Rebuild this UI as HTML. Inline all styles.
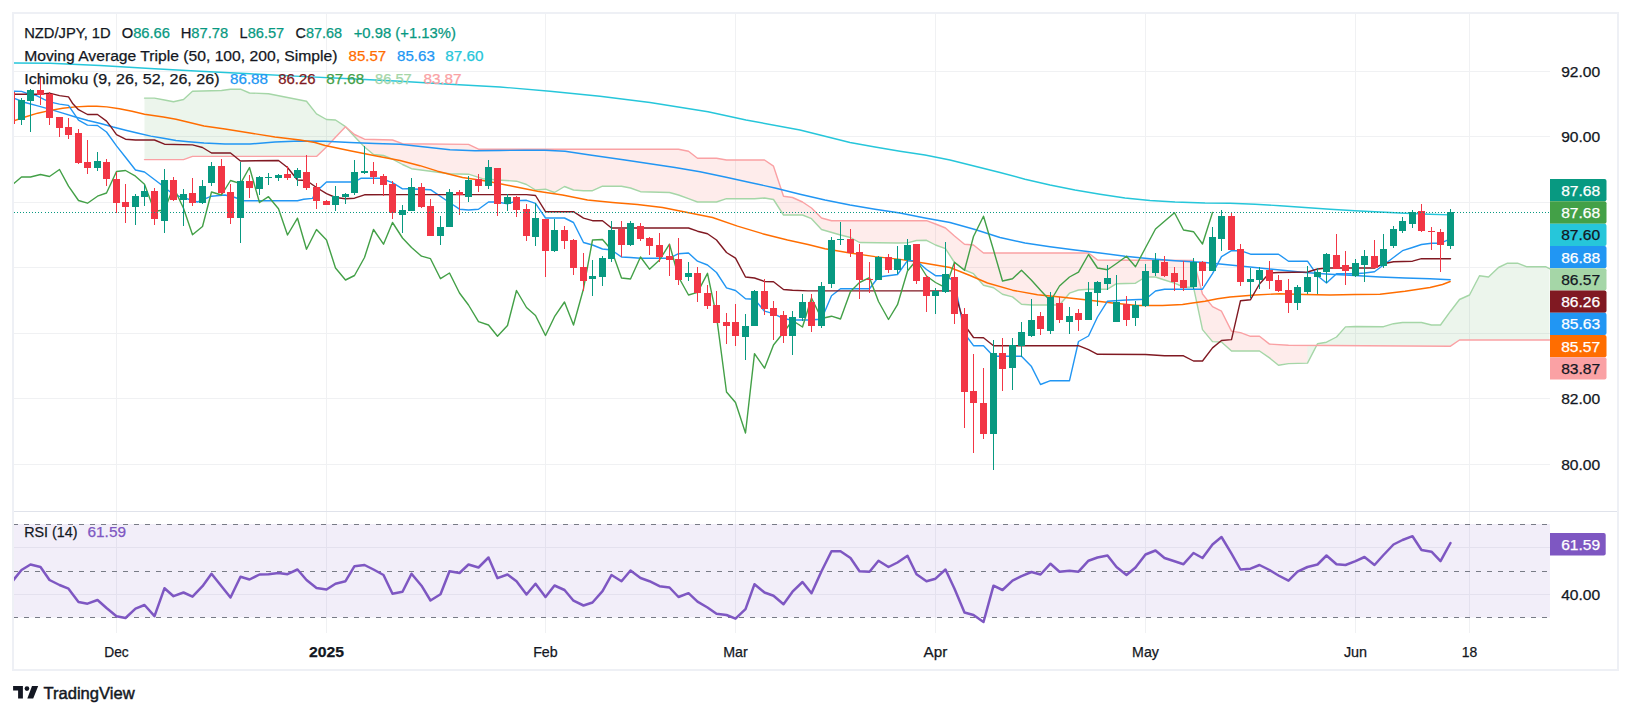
<!DOCTYPE html>
<html><head><meta charset="utf-8"><title>NZD/JPY chart</title>
<style>html,body{margin:0;padding:0;background:#fff;}svg{display:block}</style></head>
<body><svg width="1631" height="716" viewBox="0 0 1631 716" font-family='"Liberation Sans", Arial, sans-serif'>
<rect width="1631" height="716" fill="#fff"/>
<defs><clipPath id="cp"><rect x="14" y="14" width="1536" height="497"/></clipPath><clipPath id="cr"><rect x="14" y="512" width="1536" height="121"/></clipPath></defs>
<g stroke="#f0f1f3" stroke-width="1" shape-rendering="crispEdges">
<line x1="116.5" y1="14" x2="116.5" y2="633"/>
<line x1="326.5" y1="14" x2="326.5" y2="633"/>
<line x1="545.5" y1="14" x2="545.5" y2="633"/>
<line x1="735.5" y1="14" x2="735.5" y2="633"/>
<line x1="935.5" y1="14" x2="935.5" y2="633"/>
<line x1="1145.5" y1="14" x2="1145.5" y2="633"/>
<line x1="1355.5" y1="14" x2="1355.5" y2="633"/>
<line x1="1469.5" y1="14" x2="1469.5" y2="633"/>
<line x1="14" y1="71.5" x2="1550" y2="71.5"/>
<line x1="14" y1="136.5" x2="1550" y2="136.5"/>
<line x1="14" y1="202.5" x2="1550" y2="202.5"/>
<line x1="14" y1="267.5" x2="1550" y2="267.5"/>
<line x1="14" y1="333.5" x2="1550" y2="333.5"/>
<line x1="14" y1="398.5" x2="1550" y2="398.5"/>
<line x1="14" y1="464.5" x2="1550" y2="464.5"/>
<line x1="14" y1="547.5" x2="1550" y2="547.5"/>
<line x1="14" y1="594.5" x2="1550" y2="594.5"/>
</g>
<g clip-path="url(#cp)">
<polygon points="144.5,98.1 154.5,98.1 164.5,100.0 173.5,101.8 183.5,99.5 192.5,91.2 221.5,90.5 230.5,89.2 240.5,89.2 249.5,93.0 268.5,93.7 287.5,97.5 306.5,101.2 316.5,113.9 326.5,119.5 335.5,120.0 345.5,126.7 345.5,126.7 335.5,137.3 326.5,147.0 316.5,156.4 306.5,156.4 287.5,156.4 268.5,156.4 249.5,156.4 240.5,156.4 230.5,156.4 221.5,156.4 192.5,156.4 183.5,159.6 173.5,159.6 164.5,159.6 154.5,159.6 144.5,159.6" fill="rgba(67,160,71,0.10)"/>
<polygon points="345.5,126.7 354.5,136.5 364.5,147.0 373.5,154.5 383.5,155.5 392.5,159.2 402.5,164.5 411.5,168.7 430.5,171.2 449.5,173.7 468.5,174.2 478.5,177.4 482.5,178.7 497.5,180.0 516.5,181.2 526.5,184.5 535.5,190.0 545.5,189.2 554.5,192.5 564.5,186.5 573.5,190.0 583.5,190.7 592.5,190.7 602.5,186.2 621.5,186.2 630.5,188.0 640.5,191.7 669.5,192.5 678.5,195.0 688.5,198.7 697.5,202.0 716.5,202.0 726.5,198.7 754.5,198.7 764.5,198.0 773.5,199.5 783.5,215.0 792.5,215.0 802.5,215.0 811.5,218.7 821.5,229.5 831.5,232.4 840.5,235.0 850.5,237.5 859.5,242.5 897.5,243.0 907.5,242.9 916.5,240.5 926.5,240.3 935.5,245.0 945.5,248.7 954.5,262.5 964.5,270.0 973.5,273.7 983.5,285.3 993.5,287.7 1002.5,294.2 1012.5,296.9 1021.5,304.3 1031.5,305.0 1040.5,305.0 1059.5,305.0 1069.5,293.2 1078.5,290.0 1088.5,289.2 1097.5,289.2 1107.5,289.2 1116.5,283.7 1135.5,283.2 1145.5,277.0 1155.5,277.0 1164.5,280.0 1174.5,283.2 1183.5,287.0 1193.5,287.2 1202.5,329.6 1212.5,341.6 1221.5,342.0 1231.5,351.0 1240.5,351.0 1250.5,351.0 1259.5,351.0 1269.5,357.9 1278.5,365.2 1288.5,363.6 1307.5,363.1 1307.5,345.4 1288.5,345.3 1278.5,344.7 1269.5,344.1 1259.5,336.3 1250.5,336.3 1240.5,332.6 1231.5,331.1 1221.5,311.2 1212.5,306.6 1202.5,294.0 1193.5,260.5 1183.5,260.4 1174.5,260.4 1164.5,260.3 1155.5,260.3 1145.5,260.2 1135.5,260.2 1116.5,260.1 1107.5,260.1 1097.5,260.0 1088.5,253.0 1078.5,253.0 1069.5,253.0 1059.5,253.0 1040.5,253.0 1031.5,253.0 1021.5,253.0 1012.5,253.0 1002.5,253.0 993.5,253.0 983.5,253.0 973.5,245.0 964.5,244.2 954.5,236.0 945.5,228.0 935.5,224.0 926.5,220.7 916.5,220.7 907.5,220.7 897.5,220.7 859.5,220.7 850.5,220.7 840.5,220.7 831.5,220.7 821.5,218.0 811.5,208.0 802.5,202.0 792.5,197.5 783.5,196.2 773.5,166.2 764.5,160.0 754.5,160.0 726.5,160.0 716.5,158.2 697.5,158.2 688.5,151.2 678.5,149.2 669.5,149.2 640.5,149.2 630.5,149.2 621.5,149.2 602.5,149.2 592.5,149.2 583.5,149.2 573.5,149.2 564.5,149.2 554.5,149.2 545.5,149.2 535.5,149.2 526.5,149.2 516.5,149.2 497.5,149.2 482.5,149.2 478.5,149.2 468.5,144.4 449.5,144.2 430.5,144.0 411.5,143.8 402.5,143.7 392.5,140.0 383.5,139.7 373.5,139.5 364.5,139.2 354.5,134.5 345.5,126.7" fill="rgba(244,67,54,0.10)"/>
<polygon points="1307.5,363.1 1317.5,343.7 1326.5,342.2 1336.5,337.0 1345.5,326.9 1355.5,326.5 1364.5,326.6 1383.5,326.7 1393.5,323.7 1402.5,322.5 1421.5,322.5 1431.5,325.0 1440.5,325.0 1450.5,311.2 1459.5,299.5 1469.5,295.0 1479.5,275.7 1488.5,277.0 1498.5,267.5 1507.5,263.2 1517.5,263.2 1526.5,266.7 1545.5,266.7 1549.5,268.7 1549.5,340.0 1545.5,340.0 1526.5,340.0 1517.5,340.0 1507.5,340.0 1498.5,340.0 1488.5,340.0 1479.5,340.0 1469.5,340.0 1459.5,340.0 1450.5,346.2 1440.5,346.2 1431.5,346.1 1421.5,346.1 1402.5,346.0 1393.5,345.9 1383.5,345.9 1364.5,345.8 1355.5,345.7 1345.5,345.7 1336.5,345.6 1326.5,345.6 1317.5,345.5 1307.5,345.4" fill="rgba(67,160,71,0.10)"/>
<polyline points="144.5,98.1 154.5,98.1 164.5,100.0 173.5,101.8 183.5,99.5 192.5,91.2 221.5,90.5 230.5,89.2 240.5,89.2 249.5,93.0 268.5,93.7 287.5,97.5 306.5,101.2 316.5,113.9 326.5,119.5 335.5,120.0 345.5,126.7 354.5,136.5 364.5,147.0 373.5,154.5 383.5,155.5 392.5,159.2 402.5,164.5 411.5,168.7 430.5,171.2 449.5,173.7 468.5,174.2 482.5,178.7 497.5,180.0 516.5,181.2 526.5,184.5 535.5,190.0 545.5,189.2 554.5,192.5 564.5,186.5 573.5,190.0 583.5,190.7 592.5,190.7 602.5,186.2 621.5,186.2 630.5,188.0 640.5,191.7 669.5,192.5 678.5,195.0 688.5,198.7 697.5,202.0 716.5,202.0 726.5,198.7 754.5,198.7 764.5,198.0 773.5,199.5 783.5,215.0 802.5,215.0 811.5,218.7 821.5,229.5 840.5,235.0 850.5,237.5 859.5,242.5 897.5,243.0 907.5,242.9 916.5,240.5 926.5,240.3 935.5,245.0 945.5,248.7 954.5,262.5 964.5,270.0 973.5,273.7 983.5,285.3 993.5,287.7 1002.5,294.2 1012.5,296.9 1021.5,304.3 1031.5,305.0 1040.5,305.0 1059.5,305.0 1069.5,293.2 1078.5,290.0 1088.5,289.2 1107.5,289.2 1116.5,283.7 1135.5,283.2 1145.5,277.0 1155.5,277.0 1164.5,280.0 1174.5,283.2 1183.5,287.0 1193.5,287.2 1202.5,329.6 1212.5,341.6 1221.5,342.0 1231.5,351.0 1259.5,351.0 1269.5,357.9 1278.5,365.2 1288.5,363.6 1307.5,363.1 1317.5,343.7 1326.5,342.2 1336.5,337.0 1345.5,326.9 1355.5,326.5 1383.5,326.7 1393.5,323.7 1402.5,322.5 1421.5,322.5 1431.5,325.0 1440.5,325.0 1450.5,311.2 1459.5,299.5 1469.5,295.0 1479.5,275.7 1488.5,277.0 1498.5,267.5 1507.5,263.2 1517.5,263.2 1526.5,266.7 1545.5,266.7 1549.5,268.7" fill="none" stroke="#a5d6a7" stroke-width="1.4" stroke-linejoin="round" stroke-linecap="round" />
<polyline points="144.5,159.6 183.5,159.6 192.5,156.4 316.5,156.4 326.5,147.0 335.5,137.3 345.5,126.7 354.5,134.5 364.5,139.2 392.5,140.0 402.5,143.7 468.5,144.4 478.5,149.2 678.5,149.2 688.5,151.2 697.5,158.2 716.5,158.2 726.5,160.0 764.5,160.0 773.5,166.2 783.5,196.2 792.5,197.5 802.5,202.0 811.5,208.0 821.5,218.0 831.5,220.7 926.5,220.7 935.5,224.0 945.5,228.0 954.5,236.0 964.5,244.2 973.5,245.0 983.5,253.0 1088.5,253.0 1097.5,260.0 1193.5,260.5 1202.5,294.0 1212.5,306.6 1221.5,311.2 1231.5,331.1 1240.5,332.6 1250.5,336.3 1259.5,336.3 1269.5,344.1 1288.5,345.3 1364.5,345.8 1450.5,346.2 1459.5,340.0 1549.5,340.0" fill="none" stroke="#faa1a4" stroke-width="1.4" stroke-linejoin="round" stroke-linecap="round" />
<polyline points="13.7,63.0 50.0,63.3 100.0,65.5 150.0,68.5 200.0,71.2 250.0,73.8 300.0,76.4 350.0,78.7 400.0,81.2 450.0,84.2 500.0,87.0 550.0,91.2 600.0,96.2 650.0,102.5 708.0,111.7 746.0,120.0 800.0,130.0 825.0,136.2 850.0,142.5 875.0,147.0 900.0,151.2 925.0,155.0 950.0,160.0 975.0,166.2 1000.0,172.5 1025.0,179.2 1050.0,185.0 1075.0,190.0 1100.0,194.2 1125.0,198.0 1150.0,200.5 1175.0,202.0 1205.0,203.0 1230.0,203.2 1255.0,204.2 1280.0,205.7 1305.0,207.5 1330.0,209.2 1355.0,210.7 1380.0,212.0 1405.0,213.2 1430.0,214.2 1450.2,214.9" fill="none" stroke="#26c6da" stroke-width="1.4" stroke-linejoin="round" stroke-linecap="round" />
<polyline points="13.4,98.1 25.1,102.5 37.7,105.9 50.3,109.4 62.8,113.2 75.4,117.0 88.0,120.5 100.5,123.5 113.1,127.0 125.7,130.2 138.3,133.3 150.8,136.1 163.4,138.3 176.0,140.5 188.5,141.7 204.0,143.0 225.0,144.0 250.0,144.0 275.0,142.0 300.0,141.0 325.0,141.2 350.0,142.5 375.0,143.5 400.0,144.3 425.0,147.0 450.0,149.8 475.0,150.7 500.0,150.5 525.0,150.2 545.0,150.2 565.0,151.2 590.0,155.0 625.0,160.0 650.0,163.7 675.0,167.5 700.0,171.7 725.0,177.0 750.0,182.5 775.0,188.0 800.0,194.2 825.0,200.0 850.0,205.0 875.0,209.2 900.0,213.0 925.0,218.0 950.0,222.5 975.0,229.5 1000.0,237.5 1025.0,243.0 1050.0,246.7 1075.0,250.0 1100.0,253.0 1125.0,256.2 1150.0,258.7 1175.0,260.7 1205.0,262.5 1230.0,265.0 1255.0,267.5 1280.0,270.0 1305.0,272.5 1330.0,274.2 1355.0,275.5 1380.0,277.0 1405.0,278.0 1430.0,278.7 1450.2,279.7" fill="none" stroke="#2196f3" stroke-width="1.4" stroke-linejoin="round" stroke-linecap="round" />
<polyline points="13.4,121.0 25.1,117.0 37.7,113.2 50.3,110.4 62.8,108.2 75.4,106.9 88.0,106.3 96.8,106.2 106.8,106.9 119.4,108.8 132.0,111.3 144.5,114.2 163.4,117.0 176.0,119.2 188.5,122.2 204.0,126.0 225.0,129.0 250.0,133.0 275.0,137.0 300.0,140.0 315.0,142.5 325.0,145.5 350.0,150.7 375.0,155.7 400.0,160.5 420.0,165.7 437.5,171.2 462.5,177.5 487.5,181.2 512.5,186.2 537.5,191.2 562.5,195.0 587.5,200.0 612.5,202.5 637.5,204.5 662.5,207.5 687.5,212.5 712.5,217.5 737.5,226.2 762.5,233.7 787.5,240.0 808.0,244.5 825.0,248.7 850.0,253.0 875.0,256.6 900.0,259.4 925.0,263.2 950.0,267.5 970.0,275.5 987.5,283.0 1012.5,290.2 1037.5,294.8 1062.5,297.3 1087.5,300.0 1112.5,303.0 1137.5,305.5 1162.5,305.5 1182.5,304.5 1192.5,303.0 1205.0,301.2 1217.5,298.7 1230.0,297.0 1255.0,295.0 1280.0,293.7 1305.0,294.5 1330.0,295.0 1355.0,294.5 1380.0,294.2 1405.0,291.2 1430.0,287.5 1442.5,284.5 1450.2,281.5" fill="none" stroke="#ff6d00" stroke-width="1.4" stroke-linejoin="round" stroke-linecap="round" />
<polyline points="11.5,91.2 21.5,91.4 27.0,93.3 36.5,95.6 44.0,99.4 49.5,101.9 59.5,104.1 68.5,105.4 72.9,111.9 78.5,120.1 87.5,125.1 97.5,125.5 106.5,132.0 116.5,145.9 125.5,157.2 135.5,170.0 144.5,172.0 160.0,183.7 170.0,191.7 178.7,196.2 197.5,202.0 211.5,196.2 225.0,195.0 235.0,197.5 243.7,200.7 297.5,200.7 303.7,199.2 312.5,198.4 316.5,191.2 326.5,182.0 354.5,182.0 361.2,178.2 380.0,178.2 392.5,182.7 402.5,188.9 407.5,188.7 430.5,189.7 437.5,194.3 449.5,202.5 459.5,209.2 468.5,210.0 478.5,209.2 488.5,202.0 497.5,202.0 507.5,203.9 516.5,200.8 526.5,200.3 535.5,203.4 545.5,218.0 564.5,218.0 573.5,222.5 583.5,242.5 592.5,245.0 602.5,249.0 611.5,250.0 621.5,257.0 630.5,257.5 640.5,258.2 669.5,258.2 678.5,253.7 688.5,253.0 697.5,261.2 707.5,265.0 716.5,272.5 726.5,287.8 735.5,290.5 745.5,298.7 754.5,299.2 764.5,311.2 773.5,313.7 783.5,318.7 792.5,320.0 808.0,320.0 821.5,319.2 831.5,295.7 840.5,288.7 869.5,288.7 878.5,277.0 897.5,274.5 907.5,260.7 916.5,260.7 926.5,269.5 935.5,275.7 945.5,275.7 954.5,281.4 964.5,333.5 973.5,345.7 983.5,345.7 993.5,356.2 1021.5,356.2 1031.5,366.6 1040.5,384.5 1050.5,380.7 1069.5,380.7 1078.5,341.5 1088.5,336.0 1097.5,317.0 1107.5,301.2 1126.5,300.0 1145.5,299.2 1155.5,291.0 1164.5,289.2 1202.5,289.2 1212.5,273.7 1221.5,256.7 1231.5,250.7 1240.5,250.7 1250.5,254.2 1278.5,254.2 1288.5,261.2 1307.5,261.2 1317.5,275.7 1326.5,283.0 1336.5,273.7 1355.5,273.7 1364.5,273.0 1374.5,271.7 1383.5,265.0 1393.5,257.5 1402.5,250.7 1412.5,247.5 1421.5,244.5 1431.5,243.2 1440.5,243.2 1450.5,238.9" fill="none" stroke="#2196f3" stroke-width="1.4" stroke-linejoin="round" stroke-linecap="round" />
<polyline points="11.5,94.3 40.5,94.3 49.5,93.1 59.5,95.6 68.5,96.9 72.9,103.8 78.5,109.7 87.5,114.5 97.5,114.5 106.5,121.1 110.6,126.4 116.5,134.6 125.5,139.2 135.5,140.0 154.5,140.0 164.5,144.2 192.5,144.9 202.5,147.5 211.5,153.0 230.5,153.0 240.5,161.0 278.5,160.5 287.5,167.5 297.5,180.0 306.5,180.5 316.5,187.5 326.5,193.7 335.5,197.5 345.5,198.7 354.5,198.2 364.5,194.8 402.5,194.6 526.5,194.6 535.5,195.5 545.5,211.7 573.5,211.7 583.5,218.2 592.5,220.7 602.5,220.7 611.5,228.0 688.5,228.0 697.5,231.2 707.5,233.7 716.5,240.0 726.5,252.5 735.5,258.2 745.5,277.0 754.5,278.0 764.5,281.5 773.5,281.7 783.5,289.5 792.5,290.3 808.0,290.9 954.5,290.9 964.5,325.0 973.5,337.5 983.5,337.7 993.5,345.7 1078.5,345.7 1088.5,349.6 1097.5,354.3 1145.5,354.5 1164.5,355.8 1183.5,355.8 1193.5,361.0 1202.5,361.0 1212.5,347.9 1221.5,340.5 1231.5,339.6 1240.5,300.7 1250.5,299.7 1259.5,284.0 1269.5,273.0 1278.5,272.5 1307.5,272.0 1317.5,269.0 1326.5,268.0 1374.5,268.0 1383.5,263.7 1393.5,261.7 1412.5,261.2 1421.5,258.7 1450.5,258.7" fill="none" stroke="#801922" stroke-width="1.4" stroke-linejoin="round" stroke-linecap="round" />
<polyline points="11.5,185.5 21.5,177.0 30.5,177.0 40.5,174.5 49.5,176.5 59.5,169.5 68.5,186.2 78.5,200.5 87.5,203.2 97.5,196.2 106.5,193.0 116.5,171.5 125.5,170.5 135.5,176.2 144.5,184.2 154.5,211.2 164.5,210.0 173.5,187.0 183.5,208.2 192.5,234.8 202.5,226.5 211.5,192.0 221.5,195.0 230.5,180.5 240.5,183.7 249.5,167.5 259.5,202.5 268.5,196.7 278.5,208.7 287.5,235.0 297.5,218.2 306.5,249.2 316.5,229.5 326.5,240.0 335.5,268.0 345.5,280.0 354.5,275.5 364.5,257.5 373.5,229.5 383.5,244.2 392.5,222.5 402.5,238.0 411.5,247.5 421.5,256.2 430.5,258.7 440.5,278.7 449.5,273.0 459.5,293.0 468.5,305.0 478.5,321.7 488.5,325.0 497.5,336.2 507.5,325.5 516.5,290.5 526.5,307.5 535.5,315.5 545.5,335.5 554.5,316.7 564.5,302.0 573.5,325.0 583.5,288.7 592.5,240.0 602.5,239.5 611.5,250.0 621.5,278.0 630.5,279.0 640.5,257.0 649.5,269.2 659.5,260.0 669.5,244.2 678.5,277.0 688.5,295.0 697.5,292.3 707.5,273.3 716.5,316.2 726.5,392.0 735.5,402.5 745.5,433.0 754.5,353.7 764.5,368.2 773.5,345.0 783.5,332.5 792.5,320.5 802.5,327.0 811.5,298.0 821.5,318.5 831.5,316.2 840.5,319.0 850.5,291.5 859.5,282.5 869.5,277.7 878.5,301.5 888.5,319.5 897.5,304.7 907.5,271.0 916.5,260.0 926.5,276.0 935.5,282.5 945.5,287.7 954.5,262.2 964.5,270.3 973.5,236.5 983.5,216.2 993.5,250.0 1002.5,281.0 1012.5,278.7 1021.5,270.3 1031.5,280.2 1040.5,290.3 1050.5,301.0 1059.5,286.0 1069.5,277.0 1078.5,272.2 1088.5,254.5 1097.5,268.0 1107.5,269.8 1116.5,263.5 1126.5,256.2 1135.5,266.8 1145.5,247.7 1155.5,229.0 1164.5,221.2 1174.5,212.8 1183.5,230.0 1193.5,231.7 1202.5,244.0 1212.5,212.5" fill="none" stroke="#43a047" stroke-width="1.4" stroke-linejoin="round" stroke-linecap="round" />
<g shape-rendering="crispEdges">
<rect x="11" y="92" width="1" height="32" fill="#f23645"/>
<rect x="8" y="92" width="7" height="32" fill="#f23645"/>
<rect x="21" y="98" width="1" height="27" fill="#089981"/>
<rect x="18" y="100" width="7" height="20" fill="#089981"/>
<rect x="30" y="89" width="1" height="43" fill="#089981"/>
<rect x="27" y="90" width="7" height="11" fill="#089981"/>
<rect x="40" y="77" width="1" height="28" fill="#f23645"/>
<rect x="37" y="90" width="7" height="5" fill="#f23645"/>
<rect x="49" y="92" width="1" height="33" fill="#f23645"/>
<rect x="46" y="94" width="7" height="24" fill="#f23645"/>
<rect x="59" y="117" width="1" height="20" fill="#f23645"/>
<rect x="56" y="117" width="7" height="11" fill="#f23645"/>
<rect x="68" y="118" width="1" height="21" fill="#f23645"/>
<rect x="65" y="127" width="7" height="8" fill="#f23645"/>
<rect x="78" y="129" width="1" height="35" fill="#f23645"/>
<rect x="75" y="133" width="7" height="30" fill="#f23645"/>
<rect x="87" y="140" width="1" height="34" fill="#f23645"/>
<rect x="84" y="162" width="7" height="6" fill="#f23645"/>
<rect x="97" y="152" width="1" height="19" fill="#089981"/>
<rect x="94" y="161" width="7" height="7" fill="#089981"/>
<rect x="106" y="159" width="1" height="27" fill="#f23645"/>
<rect x="103" y="162" width="7" height="17" fill="#f23645"/>
<rect x="116" y="172" width="1" height="41" fill="#f23645"/>
<rect x="113" y="179" width="7" height="24" fill="#f23645"/>
<rect x="125" y="184" width="1" height="39" fill="#f23645"/>
<rect x="122" y="202" width="7" height="5" fill="#f23645"/>
<rect x="135" y="194" width="1" height="31" fill="#089981"/>
<rect x="132" y="196" width="7" height="11" fill="#089981"/>
<rect x="144" y="185" width="1" height="21" fill="#089981"/>
<rect x="141" y="191" width="7" height="6" fill="#089981"/>
<rect x="154" y="188" width="1" height="37" fill="#f23645"/>
<rect x="151" y="191" width="7" height="28" fill="#f23645"/>
<rect x="164" y="169" width="1" height="64" fill="#089981"/>
<rect x="161" y="180" width="7" height="41" fill="#089981"/>
<rect x="173" y="177" width="1" height="24" fill="#f23645"/>
<rect x="170" y="180" width="7" height="20" fill="#f23645"/>
<rect x="183" y="189" width="1" height="37" fill="#089981"/>
<rect x="180" y="194" width="7" height="6" fill="#089981"/>
<rect x="192" y="178" width="1" height="28" fill="#f23645"/>
<rect x="189" y="193" width="7" height="10" fill="#f23645"/>
<rect x="202" y="180" width="1" height="24" fill="#089981"/>
<rect x="199" y="186" width="7" height="17" fill="#089981"/>
<rect x="211" y="162" width="1" height="24" fill="#089981"/>
<rect x="208" y="166" width="7" height="17" fill="#089981"/>
<rect x="221" y="159" width="1" height="35" fill="#f23645"/>
<rect x="218" y="166" width="7" height="27" fill="#f23645"/>
<rect x="230" y="184" width="1" height="40" fill="#f23645"/>
<rect x="227" y="192" width="7" height="26" fill="#f23645"/>
<rect x="240" y="162" width="1" height="81" fill="#089981"/>
<rect x="237" y="181" width="7" height="37" fill="#089981"/>
<rect x="249" y="175" width="1" height="23" fill="#f23645"/>
<rect x="246" y="181" width="7" height="7" fill="#f23645"/>
<rect x="259" y="176" width="1" height="19" fill="#089981"/>
<rect x="256" y="177" width="7" height="12" fill="#089981"/>
<rect x="268" y="173" width="1" height="12" fill="#089981"/>
<rect x="265" y="177" width="7" height="1" fill="#089981"/>
<rect x="278" y="174" width="1" height="7" fill="#089981"/>
<rect x="275" y="175" width="7" height="3" fill="#089981"/>
<rect x="287" y="166" width="1" height="14" fill="#f23645"/>
<rect x="284" y="174" width="7" height="4" fill="#f23645"/>
<rect x="297" y="168" width="1" height="18" fill="#089981"/>
<rect x="294" y="170" width="7" height="8" fill="#089981"/>
<rect x="306" y="155" width="1" height="35" fill="#f23645"/>
<rect x="303" y="172" width="7" height="16" fill="#f23645"/>
<rect x="316" y="183" width="1" height="26" fill="#f23645"/>
<rect x="313" y="187" width="7" height="14" fill="#f23645"/>
<rect x="326" y="200" width="1" height="5" fill="#f23645"/>
<rect x="323" y="201" width="7" height="4" fill="#f23645"/>
<rect x="335" y="186" width="1" height="25" fill="#089981"/>
<rect x="332" y="196" width="7" height="9" fill="#089981"/>
<rect x="345" y="193" width="1" height="11" fill="#089981"/>
<rect x="342" y="194" width="7" height="3" fill="#089981"/>
<rect x="354" y="160" width="1" height="35" fill="#089981"/>
<rect x="351" y="172" width="7" height="21" fill="#089981"/>
<rect x="364" y="146" width="1" height="28" fill="#089981"/>
<rect x="361" y="171" width="7" height="2" fill="#089981"/>
<rect x="373" y="162" width="1" height="22" fill="#f23645"/>
<rect x="370" y="171" width="7" height="6" fill="#f23645"/>
<rect x="383" y="174" width="1" height="22" fill="#f23645"/>
<rect x="380" y="176" width="7" height="9" fill="#f23645"/>
<rect x="392" y="181" width="1" height="38" fill="#f23645"/>
<rect x="389" y="184" width="7" height="29" fill="#f23645"/>
<rect x="402" y="205" width="1" height="28" fill="#089981"/>
<rect x="399" y="210" width="7" height="5" fill="#089981"/>
<rect x="411" y="178" width="1" height="33" fill="#089981"/>
<rect x="408" y="187" width="7" height="24" fill="#089981"/>
<rect x="421" y="183" width="1" height="25" fill="#f23645"/>
<rect x="418" y="187" width="7" height="20" fill="#f23645"/>
<rect x="430" y="199" width="1" height="37" fill="#f23645"/>
<rect x="427" y="206" width="7" height="30" fill="#f23645"/>
<rect x="440" y="216" width="1" height="29" fill="#089981"/>
<rect x="437" y="227" width="7" height="9" fill="#089981"/>
<rect x="449" y="189" width="1" height="38" fill="#089981"/>
<rect x="446" y="192" width="7" height="35" fill="#089981"/>
<rect x="459" y="190" width="1" height="25" fill="#f23645"/>
<rect x="456" y="192" width="7" height="3" fill="#f23645"/>
<rect x="468" y="176" width="1" height="26" fill="#089981"/>
<rect x="465" y="180" width="7" height="17" fill="#089981"/>
<rect x="478" y="174" width="1" height="18" fill="#f23645"/>
<rect x="475" y="179" width="7" height="7" fill="#f23645"/>
<rect x="488" y="160" width="1" height="29" fill="#089981"/>
<rect x="485" y="167" width="7" height="19" fill="#089981"/>
<rect x="497" y="168" width="1" height="48" fill="#f23645"/>
<rect x="494" y="168" width="7" height="36" fill="#f23645"/>
<rect x="507" y="194" width="1" height="17" fill="#089981"/>
<rect x="504" y="197" width="7" height="7" fill="#089981"/>
<rect x="516" y="196" width="1" height="21" fill="#f23645"/>
<rect x="513" y="197" width="7" height="13" fill="#f23645"/>
<rect x="526" y="204" width="1" height="37" fill="#f23645"/>
<rect x="523" y="209" width="7" height="27" fill="#f23645"/>
<rect x="535" y="203" width="1" height="43" fill="#089981"/>
<rect x="532" y="218" width="7" height="19" fill="#089981"/>
<rect x="545" y="219" width="1" height="58" fill="#f23645"/>
<rect x="542" y="219" width="7" height="32" fill="#f23645"/>
<rect x="554" y="219" width="1" height="33" fill="#089981"/>
<rect x="551" y="230" width="7" height="21" fill="#089981"/>
<rect x="564" y="226" width="1" height="23" fill="#f23645"/>
<rect x="561" y="230" width="7" height="11" fill="#f23645"/>
<rect x="573" y="239" width="1" height="36" fill="#f23645"/>
<rect x="570" y="240" width="7" height="28" fill="#f23645"/>
<rect x="583" y="253" width="1" height="38" fill="#f23645"/>
<rect x="580" y="267" width="7" height="14" fill="#f23645"/>
<rect x="592" y="260" width="1" height="36" fill="#089981"/>
<rect x="589" y="276" width="7" height="3" fill="#089981"/>
<rect x="602" y="256" width="1" height="30" fill="#089981"/>
<rect x="599" y="258" width="7" height="19" fill="#089981"/>
<rect x="611" y="221" width="1" height="41" fill="#089981"/>
<rect x="608" y="230" width="7" height="29" fill="#089981"/>
<rect x="621" y="221" width="1" height="36" fill="#f23645"/>
<rect x="618" y="229" width="7" height="16" fill="#f23645"/>
<rect x="630" y="221" width="1" height="25" fill="#089981"/>
<rect x="627" y="223" width="7" height="22" fill="#089981"/>
<rect x="640" y="223" width="1" height="18" fill="#f23645"/>
<rect x="637" y="226" width="7" height="13" fill="#f23645"/>
<rect x="649" y="237" width="1" height="18" fill="#f23645"/>
<rect x="646" y="238" width="7" height="8" fill="#f23645"/>
<rect x="659" y="233" width="1" height="29" fill="#f23645"/>
<rect x="656" y="245" width="7" height="12" fill="#f23645"/>
<rect x="669" y="244" width="1" height="32" fill="#f23645"/>
<rect x="666" y="256" width="7" height="4" fill="#f23645"/>
<rect x="678" y="238" width="1" height="47" fill="#f23645"/>
<rect x="675" y="259" width="7" height="21" fill="#f23645"/>
<rect x="688" y="262" width="1" height="19" fill="#089981"/>
<rect x="685" y="273" width="7" height="4" fill="#089981"/>
<rect x="697" y="267" width="1" height="35" fill="#f23645"/>
<rect x="694" y="273" width="7" height="20" fill="#f23645"/>
<rect x="707" y="285" width="1" height="24" fill="#f23645"/>
<rect x="704" y="293" width="7" height="13" fill="#f23645"/>
<rect x="716" y="291" width="1" height="32" fill="#f23645"/>
<rect x="713" y="305" width="7" height="18" fill="#f23645"/>
<rect x="726" y="313" width="1" height="31" fill="#f23645"/>
<rect x="723" y="322" width="7" height="4" fill="#f23645"/>
<rect x="735" y="304" width="1" height="42" fill="#f23645"/>
<rect x="732" y="322" width="7" height="14" fill="#f23645"/>
<rect x="745" y="314" width="1" height="46" fill="#089981"/>
<rect x="742" y="326" width="7" height="11" fill="#089981"/>
<rect x="754" y="290" width="1" height="36" fill="#089981"/>
<rect x="751" y="291" width="7" height="35" fill="#089981"/>
<rect x="764" y="279" width="1" height="36" fill="#f23645"/>
<rect x="761" y="291" width="7" height="18" fill="#f23645"/>
<rect x="773" y="301" width="1" height="39" fill="#f23645"/>
<rect x="770" y="308" width="7" height="8" fill="#f23645"/>
<rect x="783" y="311" width="1" height="32" fill="#f23645"/>
<rect x="780" y="315" width="7" height="21" fill="#f23645"/>
<rect x="792" y="311" width="1" height="44" fill="#089981"/>
<rect x="789" y="317" width="7" height="19" fill="#089981"/>
<rect x="802" y="294" width="1" height="27" fill="#089981"/>
<rect x="799" y="302" width="7" height="16" fill="#089981"/>
<rect x="811" y="294" width="1" height="38" fill="#f23645"/>
<rect x="808" y="302" width="7" height="24" fill="#f23645"/>
<rect x="821" y="282" width="1" height="46" fill="#089981"/>
<rect x="818" y="286" width="7" height="40" fill="#089981"/>
<rect x="831" y="237" width="1" height="51" fill="#089981"/>
<rect x="828" y="240" width="7" height="44" fill="#089981"/>
<rect x="840" y="222" width="1" height="23" fill="#089981"/>
<rect x="837" y="239" width="7" height="1" fill="#089981"/>
<rect x="850" y="229" width="1" height="28" fill="#f23645"/>
<rect x="847" y="239" width="7" height="14" fill="#f23645"/>
<rect x="859" y="244" width="1" height="55" fill="#f23645"/>
<rect x="856" y="252" width="7" height="28" fill="#f23645"/>
<rect x="869" y="262" width="1" height="31" fill="#f23645"/>
<rect x="866" y="279" width="7" height="1" fill="#f23645"/>
<rect x="878" y="256" width="1" height="24" fill="#089981"/>
<rect x="875" y="257" width="7" height="23" fill="#089981"/>
<rect x="888" y="254" width="1" height="19" fill="#f23645"/>
<rect x="885" y="257" width="7" height="13" fill="#f23645"/>
<rect x="897" y="246" width="1" height="28" fill="#089981"/>
<rect x="894" y="259" width="7" height="11" fill="#089981"/>
<rect x="907" y="239" width="1" height="31" fill="#089981"/>
<rect x="904" y="245" width="7" height="15" fill="#089981"/>
<rect x="916" y="244" width="1" height="40" fill="#f23645"/>
<rect x="913" y="244" width="7" height="37" fill="#f23645"/>
<rect x="926" y="275" width="1" height="37" fill="#f23645"/>
<rect x="923" y="277" width="7" height="19" fill="#f23645"/>
<rect x="935" y="288" width="1" height="26" fill="#089981"/>
<rect x="932" y="291" width="7" height="5" fill="#089981"/>
<rect x="945" y="242" width="1" height="51" fill="#089981"/>
<rect x="942" y="274" width="7" height="18" fill="#089981"/>
<rect x="954" y="264" width="1" height="60" fill="#f23645"/>
<rect x="951" y="277" width="7" height="37" fill="#f23645"/>
<rect x="964" y="308" width="1" height="120" fill="#f23645"/>
<rect x="961" y="314" width="7" height="78" fill="#f23645"/>
<rect x="973" y="354" width="1" height="99" fill="#f23645"/>
<rect x="970" y="391" width="7" height="12" fill="#f23645"/>
<rect x="983" y="368" width="1" height="71" fill="#f23645"/>
<rect x="980" y="403" width="7" height="31" fill="#f23645"/>
<rect x="993" y="340" width="1" height="130" fill="#089981"/>
<rect x="990" y="353" width="7" height="81" fill="#089981"/>
<rect x="1002" y="338" width="1" height="53" fill="#f23645"/>
<rect x="999" y="353" width="7" height="16" fill="#f23645"/>
<rect x="1012" y="338" width="1" height="52" fill="#089981"/>
<rect x="1009" y="345" width="7" height="23" fill="#089981"/>
<rect x="1021" y="322" width="1" height="35" fill="#089981"/>
<rect x="1018" y="332" width="7" height="14" fill="#089981"/>
<rect x="1031" y="299" width="1" height="38" fill="#089981"/>
<rect x="1028" y="320" width="7" height="16" fill="#089981"/>
<rect x="1040" y="312" width="1" height="23" fill="#f23645"/>
<rect x="1037" y="316" width="7" height="13" fill="#f23645"/>
<rect x="1050" y="292" width="1" height="42" fill="#089981"/>
<rect x="1047" y="297" width="7" height="34" fill="#089981"/>
<rect x="1059" y="297" width="1" height="26" fill="#f23645"/>
<rect x="1056" y="303" width="7" height="17" fill="#f23645"/>
<rect x="1069" y="307" width="1" height="27" fill="#089981"/>
<rect x="1066" y="316" width="7" height="6" fill="#089981"/>
<rect x="1078" y="309" width="1" height="22" fill="#f23645"/>
<rect x="1075" y="313" width="7" height="7" fill="#f23645"/>
<rect x="1088" y="282" width="1" height="38" fill="#089981"/>
<rect x="1085" y="292" width="7" height="28" fill="#089981"/>
<rect x="1097" y="281" width="1" height="25" fill="#089981"/>
<rect x="1094" y="282" width="7" height="11" fill="#089981"/>
<rect x="1107" y="265" width="1" height="25" fill="#089981"/>
<rect x="1104" y="278" width="7" height="6" fill="#089981"/>
<rect x="1116" y="275" width="1" height="47" fill="#089981"/>
<rect x="1113" y="302" width="7" height="20" fill="#089981"/>
<rect x="1126" y="296" width="1" height="30" fill="#f23645"/>
<rect x="1123" y="304" width="7" height="16" fill="#f23645"/>
<rect x="1135" y="301" width="1" height="25" fill="#089981"/>
<rect x="1132" y="305" width="7" height="13" fill="#089981"/>
<rect x="1145" y="264" width="1" height="43" fill="#089981"/>
<rect x="1142" y="271" width="7" height="35" fill="#089981"/>
<rect x="1155" y="253" width="1" height="23" fill="#089981"/>
<rect x="1152" y="260" width="7" height="13" fill="#089981"/>
<rect x="1164" y="256" width="1" height="21" fill="#f23645"/>
<rect x="1161" y="262" width="7" height="14" fill="#f23645"/>
<rect x="1174" y="267" width="1" height="24" fill="#f23645"/>
<rect x="1171" y="273" width="7" height="9" fill="#f23645"/>
<rect x="1183" y="261" width="1" height="30" fill="#f23645"/>
<rect x="1180" y="280" width="7" height="8" fill="#f23645"/>
<rect x="1193" y="258" width="1" height="31" fill="#089981"/>
<rect x="1190" y="262" width="7" height="25" fill="#089981"/>
<rect x="1202" y="261" width="1" height="25" fill="#f23645"/>
<rect x="1199" y="262" width="7" height="9" fill="#f23645"/>
<rect x="1212" y="227" width="1" height="44" fill="#089981"/>
<rect x="1209" y="237" width="7" height="34" fill="#089981"/>
<rect x="1221" y="210" width="1" height="41" fill="#089981"/>
<rect x="1218" y="216" width="7" height="23" fill="#089981"/>
<rect x="1231" y="212" width="1" height="38" fill="#f23645"/>
<rect x="1228" y="216" width="7" height="34" fill="#f23645"/>
<rect x="1240" y="244" width="1" height="42" fill="#f23645"/>
<rect x="1237" y="249" width="7" height="33" fill="#f23645"/>
<rect x="1250" y="268" width="1" height="30" fill="#089981"/>
<rect x="1247" y="279" width="7" height="3" fill="#089981"/>
<rect x="1259" y="267" width="1" height="22" fill="#089981"/>
<rect x="1256" y="270" width="7" height="10" fill="#089981"/>
<rect x="1269" y="261" width="1" height="28" fill="#f23645"/>
<rect x="1266" y="270" width="7" height="11" fill="#f23645"/>
<rect x="1278" y="275" width="1" height="17" fill="#f23645"/>
<rect x="1275" y="280" width="7" height="11" fill="#f23645"/>
<rect x="1288" y="279" width="1" height="34" fill="#f23645"/>
<rect x="1285" y="290" width="7" height="13" fill="#f23645"/>
<rect x="1297" y="285" width="1" height="25" fill="#089981"/>
<rect x="1294" y="287" width="7" height="16" fill="#089981"/>
<rect x="1307" y="266" width="1" height="28" fill="#089981"/>
<rect x="1304" y="277" width="7" height="15" fill="#089981"/>
<rect x="1317" y="268" width="1" height="26" fill="#089981"/>
<rect x="1314" y="272" width="7" height="5" fill="#089981"/>
<rect x="1326" y="253" width="1" height="30" fill="#089981"/>
<rect x="1323" y="254" width="7" height="18" fill="#089981"/>
<rect x="1336" y="234" width="1" height="35" fill="#f23645"/>
<rect x="1333" y="255" width="7" height="14" fill="#f23645"/>
<rect x="1345" y="251" width="1" height="34" fill="#f23645"/>
<rect x="1342" y="265" width="7" height="6" fill="#f23645"/>
<rect x="1355" y="259" width="1" height="18" fill="#089981"/>
<rect x="1352" y="263" width="7" height="13" fill="#089981"/>
<rect x="1364" y="250" width="1" height="32" fill="#089981"/>
<rect x="1361" y="256" width="7" height="9" fill="#089981"/>
<rect x="1374" y="240" width="1" height="28" fill="#f23645"/>
<rect x="1371" y="256" width="7" height="12" fill="#f23645"/>
<rect x="1383" y="234" width="1" height="34" fill="#089981"/>
<rect x="1380" y="249" width="7" height="17" fill="#089981"/>
<rect x="1393" y="226" width="1" height="22" fill="#089981"/>
<rect x="1390" y="229" width="7" height="17" fill="#089981"/>
<rect x="1402" y="217" width="1" height="16" fill="#089981"/>
<rect x="1399" y="221" width="7" height="10" fill="#089981"/>
<rect x="1412" y="210" width="1" height="18" fill="#089981"/>
<rect x="1409" y="212" width="7" height="12" fill="#089981"/>
<rect x="1421" y="204" width="1" height="28" fill="#f23645"/>
<rect x="1418" y="211" width="7" height="20" fill="#f23645"/>
<rect x="1431" y="227" width="1" height="23" fill="#f23645"/>
<rect x="1428" y="231" width="7" height="1" fill="#f23645"/>
<rect x="1440" y="229" width="1" height="43" fill="#f23645"/>
<rect x="1437" y="232" width="7" height="13" fill="#f23645"/>
<rect x="1450" y="209" width="1" height="40" fill="#089981"/>
<rect x="1447" y="212" width="7" height="34" fill="#089981"/>
</g>
<line x1="14" y1="212.5" x2="1550" y2="212.5" stroke="#089981" stroke-width="1" stroke-dasharray="1 2.05" shape-rendering="crispEdges"/>
</g>
<rect x="14" y="511" width="1603" height="1" fill="#e0e3eb"/>
<rect x="14" y="524" width="1536" height="93.5" fill="rgba(126,87,194,0.10)"/>
<line x1="13" y1="524.5" x2="1550" y2="524.5" stroke="#787b86" stroke-width="1" stroke-dasharray="5 6" shape-rendering="crispEdges" clip-path="url(#cr)"/>
<line x1="13" y1="571.5" x2="1550" y2="571.5" stroke="#787b86" stroke-width="1" stroke-dasharray="5 6" shape-rendering="crispEdges" clip-path="url(#cr)"/>
<line x1="13" y1="617.5" x2="1550" y2="617.5" stroke="#787b86" stroke-width="1" stroke-dasharray="5 6" shape-rendering="crispEdges" clip-path="url(#cr)"/>
<g clip-path="url(#cr)">
<polyline points="11.5,582.5 21.5,570.0 30.5,564.5 40.5,567.0 49.5,580.0 59.5,585.0 68.5,588.7 78.5,602.0 87.5,603.7 97.5,600.0 106.5,608.0 116.5,616.2 125.5,618.0 135.5,608.7 144.5,605.0 154.5,616.2 164.5,588.2 173.5,596.2 183.5,592.5 192.5,596.7 202.5,586.2 211.5,573.7 221.5,586.2 230.5,597.5 240.5,576.7 249.5,579.5 259.5,574.5 268.5,574.2 278.5,573.0 287.5,574.2 297.5,569.5 306.5,580.0 316.5,588.0 326.5,589.5 335.5,583.7 345.5,581.2 354.5,566.2 364.5,565.0 373.5,569.5 383.5,575.0 392.5,593.7 402.5,591.7 411.5,573.7 421.5,585.7 430.5,600.5 440.5,594.2 449.5,571.2 459.5,573.0 468.5,564.5 478.5,567.5 488.5,557.5 497.5,578.2 507.5,574.5 516.5,581.2 526.5,594.5 535.5,583.7 545.5,597.0 554.5,585.5 564.5,590.0 573.5,600.7 583.5,605.5 592.5,602.5 602.5,591.2 611.5,575.0 621.5,581.2 630.5,570.5 640.5,578.0 649.5,581.2 659.5,586.2 669.5,587.5 678.5,597.0 688.5,593.2 697.5,601.7 707.5,607.5 716.5,613.7 726.5,615.0 735.5,618.7 745.5,609.2 754.5,584.2 764.5,592.5 773.5,595.7 783.5,604.2 792.5,591.7 802.5,582.0 811.5,593.2 821.5,571.2 831.5,551.2 840.5,551.2 850.5,558.0 859.5,571.2 869.5,571.7 878.5,560.7 888.5,567.0 897.5,562.5 907.5,555.7 916.5,574.2 926.5,581.2 935.5,578.7 945.5,569.5 954.5,588.7 964.5,612.5 973.5,615.0 983.5,622.0 993.5,585.7 1002.5,590.0 1012.5,580.7 1021.5,576.2 1031.5,572.0 1040.5,574.5 1050.5,563.7 1059.5,571.7 1069.5,570.7 1078.5,571.7 1088.5,560.7 1097.5,557.5 1107.5,555.5 1116.5,567.0 1126.5,575.0 1135.5,567.5 1145.5,554.5 1155.5,550.5 1164.5,558.0 1174.5,561.2 1183.5,564.2 1193.5,553.0 1202.5,558.0 1212.5,544.5 1221.5,537.0 1231.5,553.7 1240.5,569.5 1250.5,568.7 1259.5,565.0 1269.5,570.0 1278.5,575.5 1288.5,580.7 1297.5,571.7 1307.5,567.0 1317.5,564.5 1326.5,555.5 1336.5,564.2 1345.5,565.0 1355.5,561.2 1364.5,557.0 1374.5,565.0 1383.5,555.0 1393.5,544.5 1402.5,540.0 1412.5,536.2 1421.5,550.0 1431.5,551.7 1440.5,561.2 1450.5,543.0" fill="none" stroke="#7e57c2" stroke-width="2.5" stroke-linejoin="round" stroke-linecap="round" />
</g>
<rect x="13" y="13" width="1605" height="657" fill="none" stroke="#eef0f5" stroke-width="2"/>
<text x="24.2" y="38.0" fill="#131722" font-size="14.8" font-weight="normal" text-anchor="start" textLength="86.5" lengthAdjust="spacingAndGlyphs" stroke="#131722" stroke-width="0.25" >NZD/JPY, 1D</text>
<text x="121.7" y="38" font-size="14.8" textLength="48.3" lengthAdjust="spacingAndGlyphs"><tspan fill="#131722" stroke="#131722" stroke-width="0.25">O</tspan><tspan fill="#089981" stroke="#089981" stroke-width="0.25">86.66</tspan></text>
<text x="180.7" y="38" font-size="14.8" textLength="47.5" lengthAdjust="spacingAndGlyphs"><tspan fill="#131722" stroke="#131722" stroke-width="0.25">H</tspan><tspan fill="#089981" stroke="#089981" stroke-width="0.25">87.78</tspan></text>
<text x="239.5" y="38" font-size="14.8" textLength="44.7" lengthAdjust="spacingAndGlyphs"><tspan fill="#131722" stroke="#131722" stroke-width="0.25">L</tspan><tspan fill="#089981" stroke="#089981" stroke-width="0.25">86.57</tspan></text>
<text x="295.5" y="38" font-size="14.8" textLength="46.5" lengthAdjust="spacingAndGlyphs"><tspan fill="#131722" stroke="#131722" stroke-width="0.25">C</tspan><tspan fill="#089981" stroke="#089981" stroke-width="0.25">87.68</tspan></text>
<text x="353.7" y="38.0" fill="#089981" font-size="14.8" font-weight="normal" text-anchor="start" textLength="102.2" lengthAdjust="spacingAndGlyphs" stroke="#089981" stroke-width="0.25" >+0.98 (+1.13%)</text>
<text x="24.2" y="60.7" fill="#131722" font-size="14.8" font-weight="normal" text-anchor="start" textLength="313.3" lengthAdjust="spacingAndGlyphs" stroke="#131722" stroke-width="0.25" >Moving Average Triple (50, 100, 200, Simple)</text>
<text x="348.5" y="60.7" fill="#ff6d00" font-size="14.8" font-weight="normal" text-anchor="start" textLength="37.7" lengthAdjust="spacingAndGlyphs" stroke="#ff6d00" stroke-width="0.25" >85.57</text>
<text x="397.0" y="60.7" fill="#2196f3" font-size="14.8" font-weight="normal" text-anchor="start" textLength="37.8" lengthAdjust="spacingAndGlyphs" stroke="#2196f3" stroke-width="0.25" >85.63</text>
<text x="445.2" y="60.7" fill="#26c6da" font-size="14.8" font-weight="normal" text-anchor="start" textLength="38.2" lengthAdjust="spacingAndGlyphs" stroke="#26c6da" stroke-width="0.25" >87.60</text>
<text x="24.2" y="84.0" fill="#131722" font-size="14.8" font-weight="normal" text-anchor="start" textLength="195.3" lengthAdjust="spacingAndGlyphs" stroke="#131722" stroke-width="0.25" >Ichimoku (9, 26, 52, 26, 26)</text>
<text x="230.0" y="84.0" fill="#2196f3" font-size="14.8" font-weight="normal" text-anchor="start" textLength="38.0" lengthAdjust="spacingAndGlyphs" stroke="#2196f3" stroke-width="0.25" >86.88</text>
<text x="278.2" y="84.0" fill="#801922" font-size="14.8" font-weight="normal" text-anchor="start" textLength="37.3" lengthAdjust="spacingAndGlyphs" stroke="#801922" stroke-width="0.25" >86.26</text>
<text x="326.2" y="84.0" fill="#43a047" font-size="14.8" font-weight="normal" text-anchor="start" textLength="38.0" lengthAdjust="spacingAndGlyphs" stroke="#43a047" stroke-width="0.25" >87.68</text>
<text x="375.0" y="84.0" fill="#a5d6a7" font-size="14.8" font-weight="normal" text-anchor="start" textLength="36.7" lengthAdjust="spacingAndGlyphs" stroke="#a5d6a7" stroke-width="0.25" >86.57</text>
<text x="423.4" y="84.0" fill="#faa1a4" font-size="14.8" font-weight="normal" text-anchor="start" textLength="38.2" lengthAdjust="spacingAndGlyphs" stroke="#faa1a4" stroke-width="0.25" >83.87</text>
<text x="24.2" y="537.0" fill="#131722" font-size="14.8" font-weight="normal" text-anchor="start" textLength="53.3" lengthAdjust="spacingAndGlyphs" stroke="#131722" stroke-width="0.25" >RSI (14)</text>
<text x="87.5" y="537.0" fill="#7e57c2" font-size="14.8" font-weight="normal" text-anchor="start" textLength="38.5" lengthAdjust="spacingAndGlyphs" stroke="#7e57c2" stroke-width="0.25" >61.59</text>
<text x="1561.2" y="77.0" fill="#131722" font-size="14.8" font-weight="normal" text-anchor="start" textLength="39.0" lengthAdjust="spacingAndGlyphs" stroke="#131722" stroke-width="0.25" >92.00</text>
<text x="1561.2" y="142.0" fill="#131722" font-size="14.8" font-weight="normal" text-anchor="start" textLength="39.0" lengthAdjust="spacingAndGlyphs" stroke="#131722" stroke-width="0.25" >90.00</text>
<text x="1561.2" y="404.0" fill="#131722" font-size="14.8" font-weight="normal" text-anchor="start" textLength="39.0" lengthAdjust="spacingAndGlyphs" stroke="#131722" stroke-width="0.25" >82.00</text>
<text x="1561.2" y="470.0" fill="#131722" font-size="14.8" font-weight="normal" text-anchor="start" textLength="39.0" lengthAdjust="spacingAndGlyphs" stroke="#131722" stroke-width="0.25" >80.00</text>
<text x="1561.2" y="600.0" fill="#131722" font-size="14.8" font-weight="normal" text-anchor="start" textLength="39.0" lengthAdjust="spacingAndGlyphs" stroke="#131722" stroke-width="0.25" >40.00</text>
<path d="M1550 179.10h54.5a2 2 0 0 1 2 2v18.27a2 2 0 0 1-2 2h-54.5z" fill="#089981"/>
<text x="1561.2" y="195.7" fill="#fff" font-size="14.8" font-weight="normal" text-anchor="start" textLength="39.0" lengthAdjust="spacingAndGlyphs" stroke="#fff" stroke-width="0.25" >87.68</text>
<path d="M1550 201.37h54.5a2 2 0 0 1 2 2v18.27a2 2 0 0 1-2 2h-54.5z" fill="#43a047"/>
<text x="1561.2" y="218.0" fill="#fff" font-size="14.8" font-weight="normal" text-anchor="start" textLength="39.0" lengthAdjust="spacingAndGlyphs" stroke="#fff" stroke-width="0.25" >87.68</text>
<path d="M1550 223.64h54.5a2 2 0 0 1 2 2v18.27a2 2 0 0 1-2 2h-54.5z" fill="#26c6da"/>
<text x="1561.2" y="240.3" fill="#131722" font-size="14.8" font-weight="normal" text-anchor="start" textLength="39.0" lengthAdjust="spacingAndGlyphs" stroke="#131722" stroke-width="0.25" >87.60</text>
<path d="M1550 245.91h54.5a2 2 0 0 1 2 2v18.27a2 2 0 0 1-2 2h-54.5z" fill="#2196f3"/>
<text x="1561.2" y="262.5" fill="#fff" font-size="14.8" font-weight="normal" text-anchor="start" textLength="39.0" lengthAdjust="spacingAndGlyphs" stroke="#fff" stroke-width="0.25" >86.88</text>
<path d="M1550 268.18h54.5a2 2 0 0 1 2 2v18.27a2 2 0 0 1-2 2h-54.5z" fill="#a5d6a7"/>
<text x="1561.2" y="284.8" fill="#131722" font-size="14.8" font-weight="normal" text-anchor="start" textLength="39.0" lengthAdjust="spacingAndGlyphs" stroke="#131722" stroke-width="0.25" >86.57</text>
<path d="M1550 290.45h54.5a2 2 0 0 1 2 2v18.27a2 2 0 0 1-2 2h-54.5z" fill="#801922"/>
<text x="1561.2" y="307.1" fill="#fff" font-size="14.8" font-weight="normal" text-anchor="start" textLength="39.0" lengthAdjust="spacingAndGlyphs" stroke="#fff" stroke-width="0.25" >86.26</text>
<path d="M1550 312.72h54.5a2 2 0 0 1 2 2v18.27a2 2 0 0 1-2 2h-54.5z" fill="#2196f3"/>
<text x="1561.2" y="329.4" fill="#fff" font-size="14.8" font-weight="normal" text-anchor="start" textLength="39.0" lengthAdjust="spacingAndGlyphs" stroke="#fff" stroke-width="0.25" >85.63</text>
<path d="M1550 334.99h54.5a2 2 0 0 1 2 2v18.27a2 2 0 0 1-2 2h-54.5z" fill="#ff6d00"/>
<text x="1561.2" y="351.6" fill="#fff" font-size="14.8" font-weight="normal" text-anchor="start" textLength="39.0" lengthAdjust="spacingAndGlyphs" stroke="#fff" stroke-width="0.25" >85.57</text>
<path d="M1550 357.26h54.5a2 2 0 0 1 2 2v18.27a2 2 0 0 1-2 2h-54.5z" fill="#faa1a4"/>
<text x="1561.2" y="373.9" fill="#131722" font-size="14.8" font-weight="normal" text-anchor="start" textLength="39.0" lengthAdjust="spacingAndGlyphs" stroke="#131722" stroke-width="0.25" >83.87</text>
<path d="M1550 533h53.7a2 2 0 0 1 2 2v18.5a2 2 0 0 1-2 2h-53.7z" fill="#7e57c2"/>
<text x="1561.2" y="549.8" fill="#fff" font-size="14.8" font-weight="normal" text-anchor="start" textLength="39.0" lengthAdjust="spacingAndGlyphs" stroke="#fff" stroke-width="0.25" >61.59</text>
<text x="104.2" y="656.7" fill="#131722" font-size="14.8" font-weight="normal" text-anchor="start" textLength="24.5" lengthAdjust="spacingAndGlyphs" stroke="#131722" stroke-width="0.25" >Dec</text>
<text x="309.0" y="656.7" fill="#131722" font-size="14.8" font-weight="bold" text-anchor="start" textLength="35.0" lengthAdjust="spacingAndGlyphs" stroke="#131722" stroke-width="0.25" >2025</text>
<text x="533.2" y="656.7" fill="#131722" font-size="14.8" font-weight="normal" text-anchor="start" textLength="24.5" lengthAdjust="spacingAndGlyphs" stroke="#131722" stroke-width="0.25" >Feb</text>
<text x="723.2" y="656.7" fill="#131722" font-size="14.8" font-weight="normal" text-anchor="start" textLength="24.5" lengthAdjust="spacingAndGlyphs" stroke="#131722" stroke-width="0.25" >Mar</text>
<text x="923.6" y="656.7" fill="#131722" font-size="14.8" font-weight="normal" text-anchor="start" textLength="23.8" lengthAdjust="spacingAndGlyphs" stroke="#131722" stroke-width="0.25" >Apr</text>
<text x="1132.1" y="656.7" fill="#131722" font-size="14.8" font-weight="normal" text-anchor="start" textLength="26.8" lengthAdjust="spacingAndGlyphs" stroke="#131722" stroke-width="0.25" >May</text>
<text x="1343.9" y="656.7" fill="#131722" font-size="14.8" font-weight="normal" text-anchor="start" textLength="23.2" lengthAdjust="spacingAndGlyphs" stroke="#131722" stroke-width="0.25" >Jun</text>
<text x="1461.8" y="656.7" fill="#131722" font-size="14.8" font-weight="normal" text-anchor="start" textLength="15.5" lengthAdjust="spacingAndGlyphs" stroke="#131722" stroke-width="0.25" >18</text>
<g fill="#131722"><path d="M13.1 686.1h9.8v12.5h-4.8v-8h-5z"/><circle cx="26.95" cy="688.6" r="2.35"/><path d="M32 686.1h6.2l-5 12.5h-5.9z"/></g>
<text x="43.4" y="698.6" fill="#131722" font-size="16.5" font-weight="normal" text-anchor="start" textLength="91.3" lengthAdjust="spacingAndGlyphs" stroke="#131722" stroke-width="0.45">TradingView</text>
</svg></body></html>
